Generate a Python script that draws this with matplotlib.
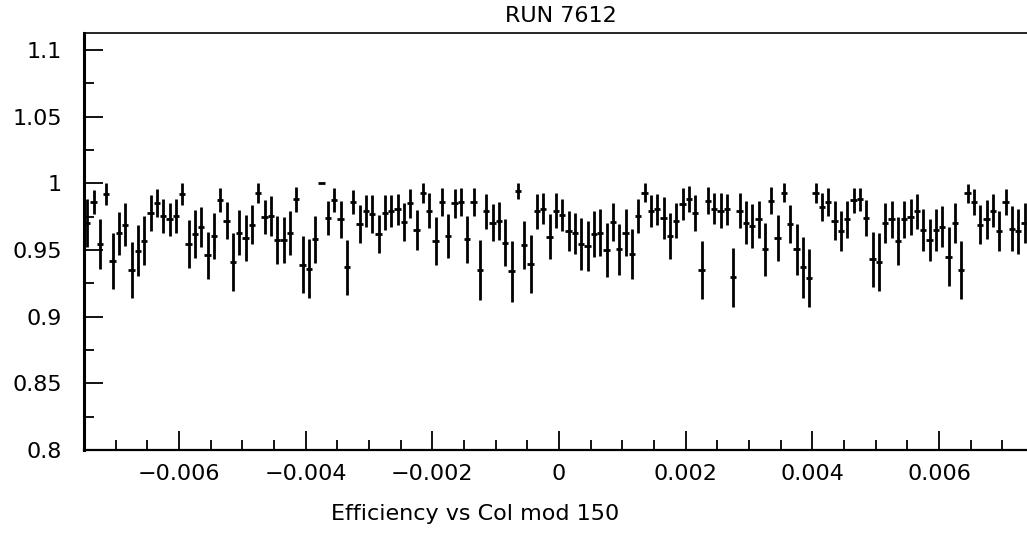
import numpy as np
import matplotlib
matplotlib.use('Agg')
import matplotlib.pyplot as plt
from matplotlib.ticker import MultipleLocator, FuncFormatter

# Histogramme: 150 bins entre -0.0075 et 0.0075 (le dernier sort de l'image)
bin_lo = -0.0075
bin_hi = 0.0075
n_bins = 150

eff = [
    0.97, 0.986, 0.9545, 0.992, 0.942, 0.9625, 0.969, 0.935, 0.9495, 0.957,
    0.9775, 0.985, 0.9755, 0.973, 0.9755, 0.992, 0.9545,
    0.962, 0.967, 0.946, 0.9605, 0.9875, 0.972, 0.941, 0.963, 0.959, 0.969,
    0.9925, 0.9745, 0.9755, 0.9575, 0.9575, 0.963, 0.988, 0.939, 0.936,
    0.958, 1.0, 0.974, 0.9875, 0.973, 0.937, 0.986, 0.9695, 0.9795, 0.977,
    0.962, 0.978, 0.9795, 0.9805, 0.971, 0.985, 0.965, 0.9925,
    0.9795, 0.957, 0.986, 0.9605, 0.985, 0.986, 0.958, 0.986, 0.935, 0.979,
    0.9705, 0.972, 0.9555, 0.934, 0.994, 0.954, 0.9395, 0.979,
    0.981, 0.96, 0.9795, 0.976, 0.964, 0.9625, 0.9545, 0.953, 0.962, 0.963,
    0.95, 0.971, 0.9505, 0.963, 0.947, 0.9755, 0.993, 0.9795,
    0.9805, 0.974, 0.9605, 0.972, 0.9845, 0.988, 0.978, 0.935, 0.987, 0.981,
    0.9795, 0.9805, 0.9295, 0.9795, 0.9705, 0.968, 0.973, 0.9505, 0.987,
    0.959, 0.993, 0.9695, 0.9505, 0.937, 0.929, 0.9925, 0.9825, 0.986, 0.972,
    0.964, 0.973, 0.9875, 0.988, 0.974, 0.943, 0.941, 0.9705,
    0.973, 0.957, 0.973, 0.975, 0.979, 0.965, 0.9575, 0.965, 0.9675, 0.945,
    0.9705, 0.935, 0.9925, 0.986, 0.969, 0.973, 0.9795, 0.964, 0.986, 0.966,
    0.964, 0.9705,
]

err = [
    0.018, 0.009, 0.019, 0.008, 0.021, 0.016, 0.016, 0.021, 0.019, 0.0185,
    0.0135, 0.0105, 0.013, 0.0125, 0.0125, 0.0085, 0.018,
    0.018, 0.015, 0.0175, 0.017, 0.009, 0.014, 0.0215, 0.017, 0.0175, 0.0145,
    0.0075, 0.0128, 0.015, 0.018, 0.0175, 0.0165, 0.0095, 0.0215, 0.022,
    0.0175, 0.0, 0.013, 0.009, 0.014, 0.0205, 0.009, 0.0145, 0.012, 0.014,
    0.014, 0.013, 0.012, 0.0115, 0.014, 0.011, 0.015, 0.0075,
    0.013, 0.018, 0.0105, 0.0165, 0.011, 0.0105, 0.0175, 0.0105, 0.0225, 0.013,
    0.014, 0.0143, 0.0175, 0.023, 0.006, 0.018, 0.0215, 0.013,
    0.0115, 0.017, 0.013, 0.012, 0.015, 0.0155, 0.0195, 0.019, 0.0175, 0.0175,
    0.0205, 0.014, 0.019, 0.0175, 0.019, 0.0128, 0.007, 0.012,
    0.0115, 0.0155, 0.017, 0.013, 0.012, 0.0098, 0.0135, 0.022, 0.01, 0.0115,
    0.013, 0.0115, 0.022, 0.013, 0.016, 0.0165, 0.014, 0.0197, 0.01,
    0.017, 0.007, 0.014, 0.019, 0.0228, 0.022, 0.0075, 0.0106, 0.0105, 0.0148,
    0.015, 0.014, 0.0094, 0.0088, 0.0134, 0.0204, 0.0215, 0.015,
    0.014, 0.018, 0.014, 0.0134, 0.013, 0.016, 0.016, 0.016, 0.0154, 0.022,
    0.015, 0.022, 0.0073, 0.01, 0.0146, 0.0148, 0.0125, 0.015, 0.01, 0.017,
    0.017, 0.015,
]

# centres des bins
largeur = (bin_hi - bin_lo) / n_bins
centres = bin_lo + largeur * (np.arange(len(eff)) + 0.5)

plt.rcParams['font.family'] = ['DejaVu Sans']

fig = plt.figure(figsize=(10.27, 5.44), dpi=100)
# l'axe depasse a droite, comme dans l'original (coupe)
ax = fig.add_axes([84 / 1027, 1 - 450 / 544, 950 / 1027, (450 - 33) / 544])

ax.errorbar(centres, eff, yerr=err, xerr=largeur / 2, fmt='none',
            ecolor='black', elinewidth=2.0, capsize=0)

ax.set_xlim(bin_lo, bin_hi)
ax.set_ylim(0.8, 1.1128)

ax.xaxis.set_major_locator(MultipleLocator(0.002))
ax.xaxis.set_minor_locator(MultipleLocator(0.0005))
ax.yaxis.set_major_locator(MultipleLocator(0.05))
ax.yaxis.set_minor_locator(MultipleLocator(0.025))

ax.xaxis.set_major_formatter(FuncFormatter(lambda v, p: '0' if abs(v) < 1e-9 else f'{v:g}'.replace('-', '\u2212')))
ax.yaxis.set_major_formatter(FuncFormatter(lambda v, p: f'{round(v, 3):g}'))

ax.tick_params(which='major', direction='in', length=14, width=1.3, labelsize=16, colors='black')
ax.tick_params(which='minor', direction='in', length=7.5, width=1.3)
ax.tick_params(axis='x', which='major', pad=10)
ax.tick_params(axis='y', which='major', pad=16)

ax.spines['right'].set_visible(False)
ax.spines['left'].set_linewidth(2.2)
ax.spines['bottom'].set_linewidth(1.6)
ax.spines['top'].set_linewidth(1.2)

fig.text(561 / 1027, 1 - 16 / 544, 'RUN 7612', ha='center', va='center', fontsize=16)
fig.text(475 / 1027, 1 - 514 / 544, 'Efficiency vs Col mod 150', ha='center', va='center', fontsize=16)

fig.savefig('out.png', dpi=100)
